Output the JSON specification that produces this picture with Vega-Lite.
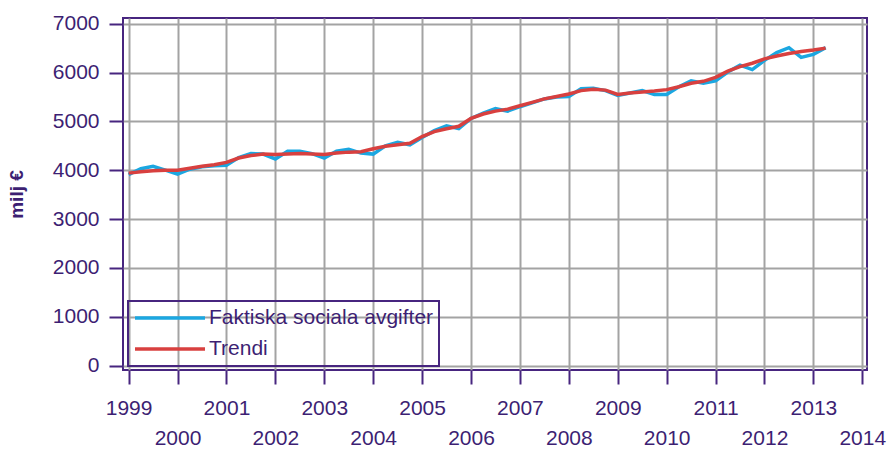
{
  "$schema": "https://vega.github.io/schema/vega-lite/v6.json",
  "width": 744,
  "height": 352,
  "autosize": {"type": "none"},
  "padding": {"left": 123, "top": 18, "right": 21, "bottom": 80},
  "background": "white",
  "config": {
    "view": {"stroke": "#47257f", "strokeWidth": 2},
    "font": "Liberation Sans",
    "axis": {
      "domain": false,
      "gridColor": "#a3a3a3",
      "gridWidth": 2,
      "gridOpacity": 1,
      "tickColor": "#47257f",
      "tickWidth": 2,
      "labelColor": "#3d1f73",
      "labelFont": "Liberation Sans",
      "labelFontSize": 21,
      "titleColor": "#3d1f73"
    },
    "legend": {
      "labelFont": "Liberation Sans",
      "labelFontSize": 21,
      "labelColor": "#3d1f73",
      "strokeWidth": 2
    }
  },
  "data": {
    "values": [
      {"t": 1999.0, "s": "Faktiska sociala avgifter", "v": 3910},
      {"t": 1999.25, "s": "Faktiska sociala avgifter", "v": 4030},
      {"t": 1999.5, "s": "Faktiska sociala avgifter", "v": 4080},
      {"t": 1999.75, "s": "Faktiska sociala avgifter", "v": 4000},
      {"t": 2000.0, "s": "Faktiska sociala avgifter", "v": 3920},
      {"t": 2000.25, "s": "Faktiska sociala avgifter", "v": 4020},
      {"t": 2000.5, "s": "Faktiska sociala avgifter", "v": 4070},
      {"t": 2000.75, "s": "Faktiska sociala avgifter", "v": 4090},
      {"t": 2001.0, "s": "Faktiska sociala avgifter", "v": 4100},
      {"t": 2001.25, "s": "Faktiska sociala avgifter", "v": 4260},
      {"t": 2001.5, "s": "Faktiska sociala avgifter", "v": 4340},
      {"t": 2001.75, "s": "Faktiska sociala avgifter", "v": 4330},
      {"t": 2002.0, "s": "Faktiska sociala avgifter", "v": 4230},
      {"t": 2002.25, "s": "Faktiska sociala avgifter", "v": 4390},
      {"t": 2002.5, "s": "Faktiska sociala avgifter", "v": 4390},
      {"t": 2002.75, "s": "Faktiska sociala avgifter", "v": 4340},
      {"t": 2003.0, "s": "Faktiska sociala avgifter", "v": 4250},
      {"t": 2003.25, "s": "Faktiska sociala avgifter", "v": 4390},
      {"t": 2003.5, "s": "Faktiska sociala avgifter", "v": 4430},
      {"t": 2003.75, "s": "Faktiska sociala avgifter", "v": 4350},
      {"t": 2004.0, "s": "Faktiska sociala avgifter", "v": 4330},
      {"t": 2004.25, "s": "Faktiska sociala avgifter", "v": 4500},
      {"t": 2004.5, "s": "Faktiska sociala avgifter", "v": 4570},
      {"t": 2004.75, "s": "Faktiska sociala avgifter", "v": 4520},
      {"t": 2005.0, "s": "Faktiska sociala avgifter", "v": 4670},
      {"t": 2005.25, "s": "Faktiska sociala avgifter", "v": 4810},
      {"t": 2005.5, "s": "Faktiska sociala avgifter", "v": 4910},
      {"t": 2005.75, "s": "Faktiska sociala avgifter", "v": 4850},
      {"t": 2006.0, "s": "Faktiska sociala avgifter", "v": 5060},
      {"t": 2006.25, "s": "Faktiska sociala avgifter", "v": 5170},
      {"t": 2006.5, "s": "Faktiska sociala avgifter", "v": 5260},
      {"t": 2006.75, "s": "Faktiska sociala avgifter", "v": 5210},
      {"t": 2007.0, "s": "Faktiska sociala avgifter", "v": 5300},
      {"t": 2007.25, "s": "Faktiska sociala avgifter", "v": 5380},
      {"t": 2007.5, "s": "Faktiska sociala avgifter", "v": 5460},
      {"t": 2007.75, "s": "Faktiska sociala avgifter", "v": 5500},
      {"t": 2008.0, "s": "Faktiska sociala avgifter", "v": 5510},
      {"t": 2008.25, "s": "Faktiska sociala avgifter", "v": 5670},
      {"t": 2008.5, "s": "Faktiska sociala avgifter", "v": 5680},
      {"t": 2008.75, "s": "Faktiska sociala avgifter", "v": 5630},
      {"t": 2009.0, "s": "Faktiska sociala avgifter", "v": 5530},
      {"t": 2009.25, "s": "Faktiska sociala avgifter", "v": 5580},
      {"t": 2009.5, "s": "Faktiska sociala avgifter", "v": 5630},
      {"t": 2009.75, "s": "Faktiska sociala avgifter", "v": 5550},
      {"t": 2010.0, "s": "Faktiska sociala avgifter", "v": 5550},
      {"t": 2010.25, "s": "Faktiska sociala avgifter", "v": 5710},
      {"t": 2010.5, "s": "Faktiska sociala avgifter", "v": 5830},
      {"t": 2010.75, "s": "Faktiska sociala avgifter", "v": 5780},
      {"t": 2011.0, "s": "Faktiska sociala avgifter", "v": 5830},
      {"t": 2011.25, "s": "Faktiska sociala avgifter", "v": 6010},
      {"t": 2011.5, "s": "Faktiska sociala avgifter", "v": 6150},
      {"t": 2011.75, "s": "Faktiska sociala avgifter", "v": 6060},
      {"t": 2012.0, "s": "Faktiska sociala avgifter", "v": 6250},
      {"t": 2012.25, "s": "Faktiska sociala avgifter", "v": 6410},
      {"t": 2012.5, "s": "Faktiska sociala avgifter", "v": 6510},
      {"t": 2012.75, "s": "Faktiska sociala avgifter", "v": 6310},
      {"t": 2013.0, "s": "Faktiska sociala avgifter", "v": 6370},
      {"t": 2013.25, "s": "Faktiska sociala avgifter", "v": 6510},
      {"t": 1999.0, "s": "Trendi", "v": 3940},
      {"t": 1999.25, "s": "Trendi", "v": 3970},
      {"t": 1999.5, "s": "Trendi", "v": 3990},
      {"t": 1999.75, "s": "Trendi", "v": 4000},
      {"t": 2000.0, "s": "Trendi", "v": 4000},
      {"t": 2000.25, "s": "Trendi", "v": 4040},
      {"t": 2000.5, "s": "Trendi", "v": 4080},
      {"t": 2000.75, "s": "Trendi", "v": 4110},
      {"t": 2001.0, "s": "Trendi", "v": 4160},
      {"t": 2001.25, "s": "Trendi", "v": 4250},
      {"t": 2001.5, "s": "Trendi", "v": 4300},
      {"t": 2001.75, "s": "Trendi", "v": 4330},
      {"t": 2002.0, "s": "Trendi", "v": 4320},
      {"t": 2002.25, "s": "Trendi", "v": 4330},
      {"t": 2002.5, "s": "Trendi", "v": 4340},
      {"t": 2002.75, "s": "Trendi", "v": 4330},
      {"t": 2003.0, "s": "Trendi", "v": 4320},
      {"t": 2003.25, "s": "Trendi", "v": 4350},
      {"t": 2003.5, "s": "Trendi", "v": 4370},
      {"t": 2003.75, "s": "Trendi", "v": 4380},
      {"t": 2004.0, "s": "Trendi", "v": 4440},
      {"t": 2004.25, "s": "Trendi", "v": 4490},
      {"t": 2004.5, "s": "Trendi", "v": 4520},
      {"t": 2004.75, "s": "Trendi", "v": 4550},
      {"t": 2005.0, "s": "Trendi", "v": 4690},
      {"t": 2005.25, "s": "Trendi", "v": 4790},
      {"t": 2005.5, "s": "Trendi", "v": 4850},
      {"t": 2005.75, "s": "Trendi", "v": 4900},
      {"t": 2006.0, "s": "Trendi", "v": 5060},
      {"t": 2006.25, "s": "Trendi", "v": 5150},
      {"t": 2006.5, "s": "Trendi", "v": 5210},
      {"t": 2006.75, "s": "Trendi", "v": 5250},
      {"t": 2007.0, "s": "Trendi", "v": 5320},
      {"t": 2007.25, "s": "Trendi", "v": 5390},
      {"t": 2007.5, "s": "Trendi", "v": 5460},
      {"t": 2007.75, "s": "Trendi", "v": 5510},
      {"t": 2008.0, "s": "Trendi", "v": 5560},
      {"t": 2008.25, "s": "Trendi", "v": 5630},
      {"t": 2008.5, "s": "Trendi", "v": 5660},
      {"t": 2008.75, "s": "Trendi", "v": 5640},
      {"t": 2009.0, "s": "Trendi", "v": 5550},
      {"t": 2009.25, "s": "Trendi", "v": 5580},
      {"t": 2009.5, "s": "Trendi", "v": 5600},
      {"t": 2009.75, "s": "Trendi", "v": 5620},
      {"t": 2010.0, "s": "Trendi", "v": 5650},
      {"t": 2010.25, "s": "Trendi", "v": 5710},
      {"t": 2010.5, "s": "Trendi", "v": 5780},
      {"t": 2010.75, "s": "Trendi", "v": 5820},
      {"t": 2011.0, "s": "Trendi", "v": 5900},
      {"t": 2011.25, "s": "Trendi", "v": 6030},
      {"t": 2011.5, "s": "Trendi", "v": 6120},
      {"t": 2011.75, "s": "Trendi", "v": 6190},
      {"t": 2012.0, "s": "Trendi", "v": 6280},
      {"t": 2012.25, "s": "Trendi", "v": 6340},
      {"t": 2012.5, "s": "Trendi", "v": 6390},
      {"t": 2012.75, "s": "Trendi", "v": 6430},
      {"t": 2013.0, "s": "Trendi", "v": 6460},
      {"t": 2013.25, "s": "Trendi", "v": 6500}
    ]
  },
  "mark": {"type": "line", "strokeWidth": 3.5, "clip": true},
  "encoding": {
    "x": {
      "field": "t",
      "type": "quantitative",
      "scale": {"domain": [1998.885, 2014.096], "nice": false, "zero": false},
      "axis": {
        "title": null,
        "values": [1999, 2000, 2001, 2002, 2003, 2004, 2005, 2006, 2007, 2008, 2009, 2010, 2011, 2012, 2013, 2014],
        "format": "d",
        "labelExpr": "datum.value % 2 == 1 ? datum.label : ['', datum.label]",
        "labelLineHeight": 30,
        "labelBaseline": "top",
        "labelOverlap": false,
        "labelBound": false,
        "labelFlush": false,
        "tickSize": 14,
        "labelPadding": 13
      }
    },
    "y": {
      "field": "v",
      "type": "quantitative",
      "scale": {"domain": [-92, 7117], "nice": false, "zero": false},
      "axis": {
        "title": "milj €",
        "titleFont": "Liberation Sans",
        "titleFontSize": 19,
        "titleFontWeight": "bold",
        "titlePadding": 26,
        "values": [0, 1000, 2000, 3000, 4000, 5000, 6000, 7000],
        "format": "d",
        "tickSize": 14,
        "labelPadding": 10,
        "labelOverlap": false,
        "labelFlush": false
      }
    },
    "color": {
      "field": "s",
      "type": "nominal",
      "scale": {
        "domain": ["Faktiska sociala avgifter", "Trendi"],
        "range": ["#1ba7e1", "#d8403f"]
      },
      "legend": {
        "title": null,
        "orient": "none",
        "legendX": 5,
        "legendY": 283,
        "symbolType": "stroke",
        "symbolSize": 4900,
        "symbolStrokeWidth": 3.5,
        "labelOffset": 2,
        "labelLimit": 400,
        "clipHeight": 24,
        "strokeColor": "#47257f",
        "padding": 5,
        "rowPadding": 7,
        "fillColor": null
      }
    }
  }
}
